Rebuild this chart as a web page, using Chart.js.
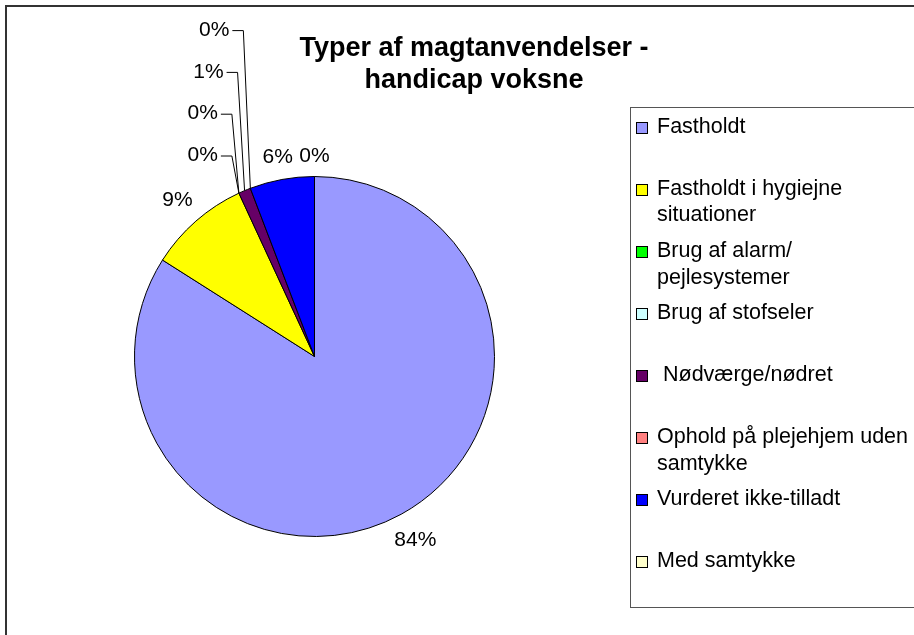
<!DOCTYPE html>
<html>
<head>
<meta charset="utf-8">
<script src="https://cdn.jsdelivr.net/npm/chart.js@4/dist/chart.umd.min.js"></script>
<style>
  html, body { margin: 0; padding: 0; background: #fff; }
  canvas { display: block; }
</style>
</head>
<body>
<canvas class="js-chart" width="914" height="635"></canvas>
<script>
// data
const titleLines = ['Typer af magtanvendelser -', 'handicap voksne'];
const categories = [
  'Fastholdt',
  'Fastholdt i hygiejne situationer',
  'Brug af alarm/ pejlesystemer',
  'Brug af stofseler',
  ' Nødværge/nødret',
  'Ophold på plejehjem uden samtykke',
  'Vurderet ikke-tilladt',
  'Med samtykke'
];
const shares = [84.0, 9.1, 0, 0, 1.1, 0, 5.8, 0];
const colors = ['#9999FF', '#FFFF00', '#00FF00', '#CCFFFF', '#660066', '#FF8080', '#0000FF', '#FFFFCC'];
// labels pulled out with leader lines (crowded small slices)
const leaderSlices = [2, 3, 4, 5];

const FONT = "'Liberation Sans', Arial, sans-serif";

// ramme + titel
const framePlugin = {
  id: 'frame',
  beforeDraw(chart) {
    const ctx = chart.ctx;
    ctx.save();
    ctx.fillStyle = '#fff';
    ctx.fillRect(0, 0, chart.width, chart.height);
    ctx.strokeStyle = '#333';
    ctx.lineWidth = 2;
    ctx.strokeRect(6, 6, chart.width + 20, chart.height + 20);

    ctx.fillStyle = '#000';
    ctx.font = `bold 27px ${FONT}`;
    ctx.textAlign = 'center';
    ctx.textBaseline = 'alphabetic';
    titleLines.forEach((t, i) => ctx.fillText(t, 474, 56 + i * 32));
    ctx.restore();
  }
};

// procent-etiketter
const labelPlugin = {
  id: 'pctLabels',
  afterDatasetsDraw(chart) {
    const ctx = chart.ctx;
    const meta = chart.getDatasetMeta(0);
    const total = shares.reduce((a, b) => a + b, 0);
    ctx.save();
    ctx.font = `21px ${FONT}`;
    ctx.fillStyle = '#000';
    ctx.strokeStyle = '#000';
    ctx.lineWidth = 1;
    ctx.textBaseline = 'middle';

    meta.data.forEach((arc, i) => {
      const { x, y, startAngle, endAngle, outerRadius } = arc.getProps(['x', 'y', 'startAngle', 'endAngle', 'outerRadius'], true);
      const mid = (startAngle + endAngle) / 2;
      const dx = Math.cos(mid);
      const dy = Math.sin(mid);
      const text = Math.round(shares[i] / total * 100) + '%';
      const k = leaderSlices.indexOf(i);

      if (k < 0) {
        const w = ctx.measureText(text).width;
        const r = outerRadius + 10 + Math.abs(dx) * w / 2 + Math.abs(dy) * 10.5;
        ctx.textAlign = 'center';
        ctx.fillText(text, x + dx * r, y + dy * r);
      } else {
        const ex = x + dx * outerRadius;
        const ey = y + dy * outerRadius;
        const ly = y - outerRadius - 21 - k * 41.8;
        const right = ex - 21;
        ctx.textAlign = 'right';
        ctx.fillText(text, right, ly);
        ctx.beginPath();
        ctx.moveTo(right + 3, ly + 0.5);
        ctx.lineTo(right + 14, ly + 0.5);
        ctx.lineTo(ex, ey);
        ctx.stroke();
      }
    });
    ctx.restore();
  }
};

// forklaring
function wrapText(ctx, text, maxWidth) {
  if (ctx.measureText(text).width <= maxWidth) return [text];
  const words = text.split(' ');
  const lines = [];
  let line = words.shift();
  words.forEach(w => {
    const test = line + ' ' + w;
    if (ctx.measureText(test).width > maxWidth) {
      lines.push(line);
      line = w;
    } else {
      line = test;
    }
  });
  lines.push(line);
  return lines;
}

const legendPlugin = {
  id: 'boxLegend',
  afterDraw(chart) {
    const ctx = chart.ctx;
    ctx.save();
    ctx.strokeStyle = '#555';
    ctx.lineWidth = 1;
    ctx.strokeRect(630.5, 107.5, 320, 500);

    ctx.font = `21.5px ${FONT}`;
    ctx.textAlign = 'left';
    ctx.textBaseline = 'middle';
    categories.forEach((c, i) => {
      const y0 = 126.7 + i * 62.1;
      const sy = Math.round(y0 - 4);
      ctx.fillStyle = colors[i];
      ctx.fillRect(637, sy, 10, 10);
      ctx.strokeStyle = '#000';
      ctx.strokeRect(636.5, sy - 0.5, 11, 11);
      ctx.fillStyle = '#000';
      wrapText(ctx, c, 258).forEach((line, j) => {
        ctx.fillText(line, 657, y0 + j * 26.7);
      });
    });
    ctx.restore();
  }
};

new Chart(document.querySelector('.js-chart'), {
  type: 'pie',
  data: {
    labels: categories,
    datasets: [{
      data: shares,
      backgroundColor: colors,
      borderColor: '#000',
      borderWidth: 1
    }]
  },
  options: {
    responsive: false,
    animation: false,
    layout: {
      padding: { left: 134, top: 176, right: 419, bottom: 98 }
    },
    plugins: {
      legend: { display: false },
      title: { display: false },
      tooltip: { enabled: false }
    }
  },
  plugins: [framePlugin, labelPlugin, legendPlugin]
});
</script>
</body>
</html>
